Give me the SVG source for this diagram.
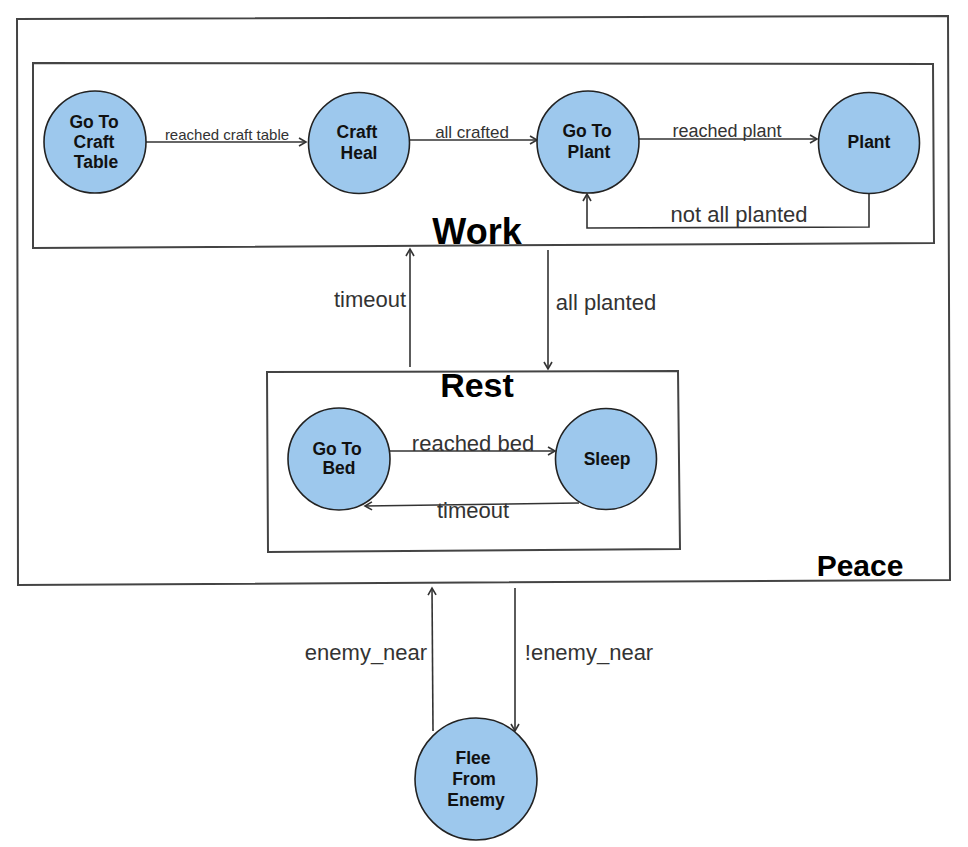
<svg xmlns="http://www.w3.org/2000/svg" width="968" height="847" viewBox="0 0 968 847">
<style>
.box{fill:none;stroke:#444;stroke-width:2}
.node{fill:#9dc8ed;stroke:#222;stroke-width:1.6}
.nt{font-family:"Liberation Sans",Arial,sans-serif;font-weight:bold;font-size:17.5px;fill:#111;text-anchor:middle}
.title{font-family:"Liberation Sans",Arial,sans-serif;font-weight:bold;fill:#000;text-anchor:middle}
.edge{fill:none;stroke:#333;stroke-width:1.6;marker-end:url(#arr)}
.lbl{font-family:"Liberation Sans",Arial,sans-serif;fill:#333;text-anchor:middle}
.l22{font-size:22px}
</style>
<defs>
<marker id="arr" markerUnits="userSpaceOnUse" markerWidth="12" markerHeight="12" refX="8" refY="5" orient="auto">
<path d="M1,1 L8,5 L1,9" fill="none" stroke="#333" stroke-width="1.6"/>
</marker>
</defs>
<rect width="968" height="847" fill="#fff"/>
<g id="peace">
<polygon class="box" points="17,19 948,16 950,580 18,585"/>
<text class="title" x="860" y="576" font-size="30">Peace</text>
</g>
<g id="work">
<polygon class="box" points="33,63 933,64 934,243 33,248"/>
<text class="title" x="477" y="244" font-size="36">Work</text>
</g>
<g id="rest">
<polygon class="box" points="267,372 678,371 680,549 268,552"/>
<text class="title" x="477" y="397" font-size="34">Rest</text>
</g>
<g id="connectors">
<line class="edge" x1="146" y1="142" x2="306" y2="142"/>
<text class="lbl" x="227" y="140" font-size="15">reached craft table</text>
<line class="edge" x1="409" y1="140" x2="537" y2="140"/>
<text class="lbl" x="472" y="138" font-size="17">all crafted</text>
<line class="edge" x1="639" y1="139" x2="817" y2="139"/>
<text class="lbl" x="727" y="137" font-size="18">reached plant</text>
<polyline class="edge" points="869,193 869,227 587,228 587,194"/>
<text class="lbl l22" x="739" y="222">not all planted</text>
<line class="edge" x1="410" y1="367" x2="410" y2="249"/>
<text class="lbl l22" x="370" y="307">timeout</text>
<line class="edge" x1="548" y1="250" x2="548" y2="369"/>
<text class="lbl l22" x="606" y="310">all planted</text>
<line class="edge" x1="389" y1="451" x2="555" y2="451"/>
<text class="lbl l22" x="473" y="451">reached bed</text>
<line class="edge" x1="579" y1="503" x2="365" y2="506"/>
<text class="lbl l22" x="473" y="518">timeout</text>
<line class="edge" x1="433" y1="731" x2="432" y2="588"/>
<text class="lbl l22" x="366" y="660">enemy_near</text>
<line class="edge" x1="515" y1="588" x2="515" y2="731"/>
<text class="lbl l22" x="589" y="660">!enemy_near</text>
</g>
<g id="go-to-craft-table">
<circle class="node" cx="95" cy="142" r="51"/>
<text class="nt" x="94" y="128">Go To</text>
<text class="nt" x="94" y="148">Craft</text>
<text class="nt" x="96" y="168">Table</text>
</g>
<g id="craft-heal">
<circle class="node" cx="359" cy="143" r="50.5"/>
<text class="nt" x="357" y="138">Craft</text>
<text class="nt" x="359" y="159">Heal</text>
</g>
<g id="go-to-plant">
<circle class="node" cx="588" cy="142" r="51"/>
<text class="nt" x="587" y="137">Go To</text>
<text class="nt" x="589" y="158">Plant</text>
</g>
<g id="plant">
<circle class="node" cx="869" cy="143" r="50.5"/>
<text class="nt" x="869" y="148">Plant</text>
</g>
<g id="go-to-bed">
<circle class="node" cx="339" cy="459" r="51"/>
<text class="nt" x="337" y="455">Go To</text>
<text class="nt" x="339" y="474">Bed</text>
</g>
<g id="sleep">
<circle class="node" cx="606" cy="459" r="50.5"/>
<text class="nt" x="607" y="465">Sleep</text>
</g>
<g id="flee-from-enemy">
<circle class="node" cx="476" cy="779" r="61"/>
<text class="nt" x="473" y="764">Flee</text>
<text class="nt" x="474" y="785">From</text>
<text class="nt" x="476" y="806">Enemy</text>
</g>
</svg>
